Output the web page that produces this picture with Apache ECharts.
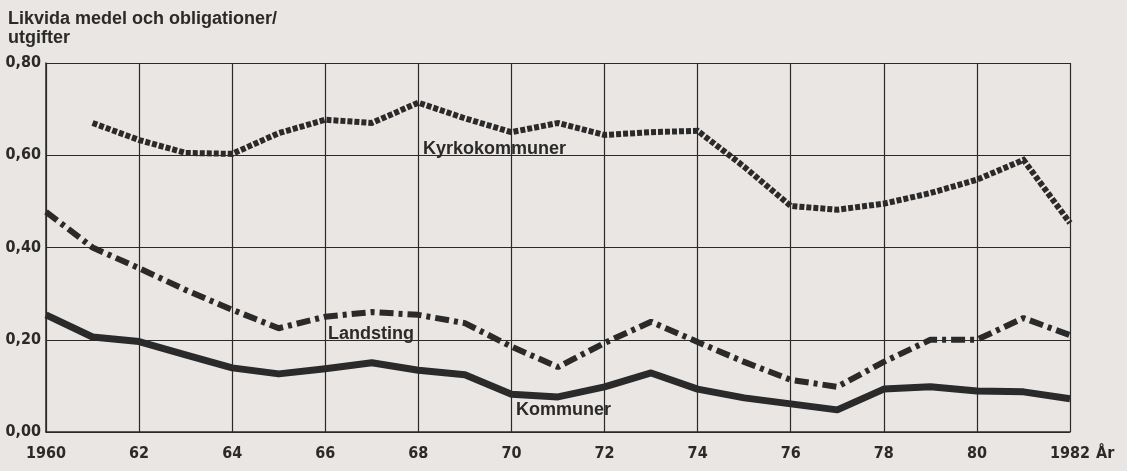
<!DOCTYPE html>
<html>
<head>
<meta charset="utf-8">
<script src="https://cdn.jsdelivr.net/npm/echarts@6/dist/echarts.min.js"></script>
<style>
  html, body { margin: 0; padding: 0; background: #e9e6e3; }
  #chart { width: 1127px; height: 471px; }
</style>
</head>
<body>
<div id="chart"></div>
<script>
// år och kvoter
var years = [1960, 1961, 1962, 1963, 1964, 1965, 1966, 1967, 1968, 1969, 1970,
             1971, 1972, 1973, 1974, 1975, 1976, 1977, 1978, 1979, 1980, 1981, 1982];
var kyrkokommuner = [null, 0.67, 0.633, 0.605, 0.603, 0.648, 0.677, 0.67, 0.714, 0.68, 0.65,
                     0.67, 0.644, 0.65, 0.653, 0.575, 0.49, 0.482, 0.495, 0.518, 0.547, 0.59, 0.453];
var landsting = [0.477, 0.40, 0.355, 0.308, 0.265, 0.225, 0.25, 0.26, 0.254, 0.236, 0.185,
                 0.141, 0.193, 0.239, 0.195, 0.152, 0.113, 0.098, 0.152, 0.2, 0.2, 0.247, 0.21];
var kommuner = [0.254, 0.206, 0.196, 0.167, 0.139, 0.126, 0.137, 0.15, 0.134, 0.124, 0.082,
                0.076, 0.098, 0.128, 0.093, 0.074, 0.061, 0.048, 0.093, 0.098, 0.089, 0.087, 0.072];

function pairs(vals) {
  var out = [];
  for (var i = 0; i < years.length; i++) {
    if (vals[i] != null) out.push([years[i], vals[i]]);
  }
  return out;
}

var ink = '#2b2a2a';
var narrow = '"Liberation Sans Narrow", "DejaVu Sans Condensed", sans-serif';
var tickFont = { fontFamily: narrow, fontWeight: 'bold', fontSize: 16, color: ink };

var myChart = echarts.init(document.getElementById('chart'));
myChart.setOption({
  backgroundColor: '#e9e6e3',
  animation: false,
  grid: { left: 46, right: 57, top: 63, bottom: 39, containLabel: false },
  xAxis: {
    type: 'value',
    min: 1960, max: 1982, interval: 2,
    axisLine: { show: true, lineStyle: { color: ink, width: 1.5 } },
    axisTick: { show: false },
    splitLine: { show: true, lineStyle: { color: ink, width: 1.2 } },
    axisLabel: Object.assign({}, tickFont, {
      margin: 14,
      formatter: function (v) {
        if (v === 1960 || v === 1982) return String(v);
        return String(v).slice(2);
      }
    })
  },
  yAxis: {
    type: 'value',
    min: 0, max: 0.8, interval: 0.2,
    axisLine: { show: true, lineStyle: { color: ink, width: 1.5 } },
    axisTick: { show: false },
    splitLine: { show: true, lineStyle: { color: ink, width: 1.2 } },
    axisLabel: Object.assign({}, tickFont, {
      margin: 5,
      formatter: function (v) { return v.toFixed(2).replace('.', ','); }
    })
  },
  series: [
    {
      name: 'Kyrkokommuner', type: 'line', data: pairs(kyrkokommuner),
      showSymbol: false, z: 3,
      lineStyle: { color: ink, width: 6, type: [5, 2], cap: 'butt', join: 'miter' }
    },
    {
      name: 'Landsting', type: 'line', data: pairs(landsting),
      showSymbol: false, z: 3,
      lineStyle: { color: ink, width: 6, type: [14, 5, 4, 5], cap: 'butt' }
    },
    {
      name: 'Kommuner', type: 'line', data: pairs(kommuner),
      showSymbol: false, z: 3,
      lineStyle: { color: ink, width: 7, cap: 'butt', join: 'round' }
    }
  ],
  graphic: [
    { type: 'text', left: 8, top: 10,
      style: { text: 'Likvida medel och obligationer/\nutgifter', fill: ink,
               font: 'bold 18px "Liberation Sans"', lineHeight: 19 } },
    { type: 'text', left: 423, top: 140,
      style: { text: 'Kyrkokommuner', fill: ink, font: 'bold 18px "Liberation Sans"' } },
    { type: 'text', left: 328, top: 325,
      style: { text: 'Landsting', fill: ink, font: 'bold 18px "Liberation Sans"' } },
    { type: 'text', left: 516, top: 401,
      style: { text: 'Kommuner', fill: ink, font: 'bold 18px "Liberation Sans"' } },
    { type: 'text', left: 1096, top: 446,
      style: { text: 'År', fill: ink, font: 'bold 16px ' + narrow } }
  ]
});
window.addEventListener('resize', function () { myChart.resize(); });
</script>
</body>
</html>
